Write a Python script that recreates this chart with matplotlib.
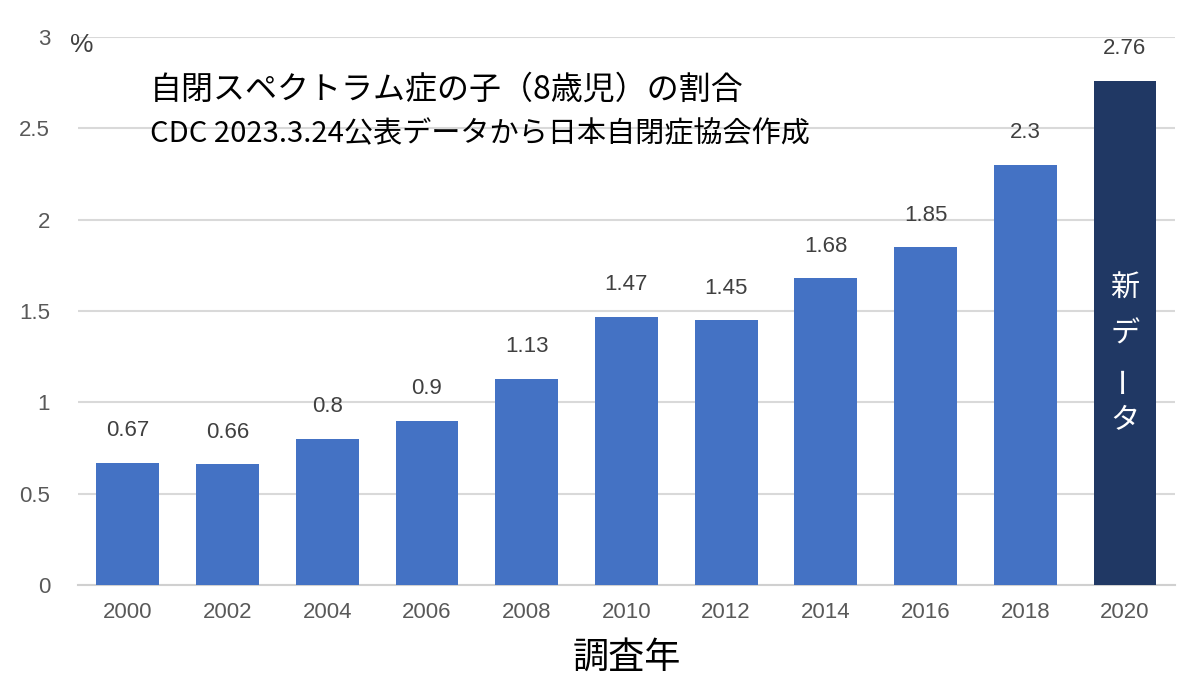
import matplotlib
matplotlib.use("Agg")
import matplotlib.pyplot as plt

years = ["2000", "2002", "2004", "2006", "2008", "2010", "2012", "2014", "2016", "2018", "2020"]
values = [0.67, 0.66, 0.8, 0.9, 1.13, 1.47, 1.45, 1.68, 1.85, 2.3, 2.76]
value_labels = ["0.67", "0.66", "0.8", "0.9", "1.13", "1.47", "1.45", "1.68", "1.85", "2.3", "2.76"]
yticks = [0, 0.5, 1, 1.5, 2, 2.5, 3]
ytick_labels = ["0", "0.5", "1", "1.5", "2", "2.5", "3"]
title = "自閉スペクトラム症の子（8歳児）の割合"
subtitle = "CDC 2023.3.24公表データから日本自閉症協会作成"
xlabel = "調査年"
new_label_chars = ["新", "デ", "ー", "タ"]

plt.rcParams['font.family'] = ['Noto Sans CJK JP', 'DejaVu Sans']

BLUE = "#4472C4"
NAVY = "#203864"
GRID = "#D9D9D9"
TXT = "#404040"
NUMFONT = ['Liberation Sans', 'DejaVu Sans']

fig = plt.figure(figsize=(12, 6.99), dpi=100)
ax = fig.add_axes([0.065, 0.163, 0.914, 0.784])

colors = [BLUE] * (len(years) - 1) + [NAVY]
x = list(range(len(years)))
ax.bar(x, values, width=0.63, color=colors, zorder=3)

ax.set_xlim(-0.5, len(years) - 0.5)
ax.set_ylim(0, 3)
ax.set_yticks(yticks)
ax.set_yticklabels(ytick_labels, family=NUMFONT, fontsize=16, color="#595959")
ax.set_xticks(x)
ax.set_xticklabels(years, family=NUMFONT, fontsize=16, color="#595959")
ax.tick_params(axis='y', length=0, pad=20)
ax.tick_params(axis='x', length=0, pad=12)
ax.grid(axis='y', color=GRID, linewidth=1.5, zorder=0)
for s in ['top', 'right', 'left']:
    ax.spines[s].set_visible(False)
ax.spines['bottom'].set_color("#D0D0D0")
ax.spines['bottom'].set_linewidth(1.5)

for xi, v, lab in zip(x, values, value_labels):
    ax.annotate(lab, (xi, v), xytext=(0, 23), textcoords='offset points',
                ha='center', va='center', fontsize=16, color=TXT, family=NUMFONT)

# vertical label inside last bar
ys = [1.62, 1.37, 1.13, 0.9]
for ch, yy in zip(new_label_chars, ys):
    rot = 90 if ch == "ー" else 0
    ax.text(x[-1], yy, ch, ha='center', va='center', fontsize=21, color='white',
            rotation=rot, zorder=4)

ax.set_xlabel(xlabel, fontsize=26, color='black', labelpad=12)

fig.text(0.125, 0.871, title, fontsize=23, color='black', ha='left', va='center')
fig.text(0.125, 0.808, subtitle, fontsize=21, color='black', ha='left', va='center')
fig.text(0.058, 0.935, "%", fontsize=19, color=TXT, ha='left', va='center', family=NUMFONT)

fig.savefig("out.png", dpi=100, facecolor='white')
